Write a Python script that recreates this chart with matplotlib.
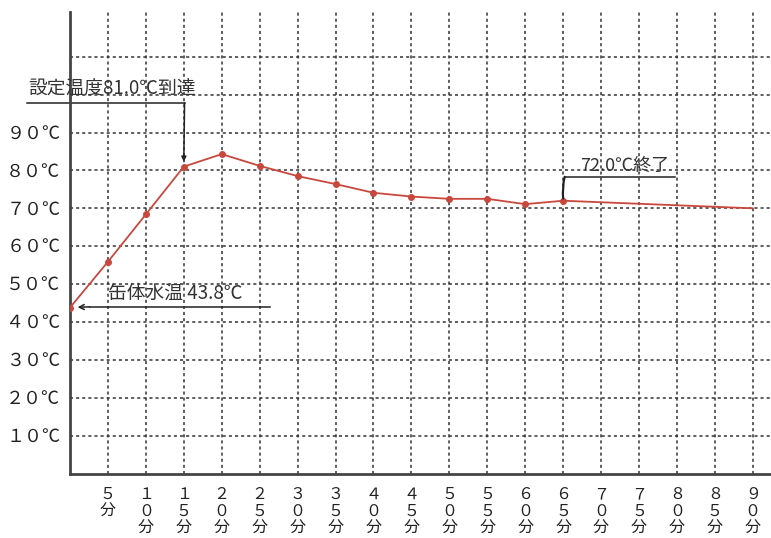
import matplotlib.pyplot as plt

plt.rcParams['font.family'] = ['Noto Sans CJK JP', 'DejaVu Sans']

# 経過時間(分)と温度(℃)
minutes = [0, 5, 10, 15, 20, 25, 30, 35, 40, 45, 50, 55, 60, 65, 90]
temps = [43.8, 55.9, 68.4, 81.0, 84.3, 81.2, 78.5, 76.4, 74.1, 73.1, 72.5, 72.5, 71.1, 72.0, 70.0]

zen = str.maketrans('0123456789', '０１２３４５６７８９')
x_ticks = list(range(5, 95, 5))
x_labels = ['\n'.join(list(str(m).translate(zen)) + ['分']) for m in x_ticks]
y_ticks = list(range(10, 120, 10))
y_labels = [str(t).translate(zen) + '℃' if t <= 90 else '' for t in y_ticks]

fig = plt.figure(figsize=(7.71, 5.38), dpi=100)
ax = fig.add_axes([70 / 771, 0.1197, 701 / 771, 0.858])

ax.plot(minutes, temps, color='#c9483e', lw=1.3, marker='o', ms=4,
        markevery=list(range(len(minutes) - 1)), zorder=3)

ax.set_xlim(0, 92.4)
ax.set_ylim(0, 121.8)
ax.set_xticks(x_ticks)
ax.set_xticklabels(x_labels, fontsize=11.5, linespacing=0.98, va='top', color='#222222')
ax.set_yticks(y_ticks)
ax.set_yticklabels(y_labels, fontsize=13, color='#222222')
ax.tick_params(length=0)
ax.tick_params(axis='x', pad=9)
ax.tick_params(axis='y', pad=7)

ax.grid(True, color='#333333', linestyle=(0, (2, 2)), lw=1.1)
ax.set_axisbelow(True)
for s in ['top', 'right']:
    ax.spines[s].set_visible(False)
for s in ['left', 'bottom']:
    ax.spines[s].set_linewidth(2)
    ax.spines[s].set_color('#444444')

# 注記
ax.text(-5.5, 98.6, '設定温度81.0℃到達', fontsize=13.5, color='#333333', va='bottom', clip_on=False)
ax.plot([-5.7, 15.1], [97.8, 97.8], color='#222222', lw=1.1, clip_on=False)
ax.annotate('', xy=(15.0, 82.3), xytext=(15.1, 97.8),
            arrowprops=dict(arrowstyle='-|>', color='#222222', lw=1.1,
                            mutation_scale=7, shrinkA=0, shrinkB=0))

ax.text(5.0, 44.8, '缶体水温 43.8℃', fontsize=13.5, color='#333333', va='bottom')
ax.plot([2.6, 26.4], [44.0, 44.0], color='#222222', lw=1.1)
ax.annotate('', xy=(1.0, 43.9), xytext=(2.6, 44.0),
            arrowprops=dict(arrowstyle='->', color='#222222', lw=1.1,
                            mutation_scale=9, shrinkA=0, shrinkB=0))

ax.text(67.2, 78.9, '72.0℃終了', fontsize=13, color='#333333', va='bottom')
ax.plot([65.2, 79.7], [78.3, 78.3], color='#222222', lw=1.1)
ax.annotate('', xy=(65.0, 72.6), xytext=(65.2, 78.3),
            arrowprops=dict(arrowstyle='-', color='#222222', lw=1.6,
                            connectionstyle='arc3,rad=0.08', shrinkA=0, shrinkB=0))

fig.savefig('out.png', dpi=100)
